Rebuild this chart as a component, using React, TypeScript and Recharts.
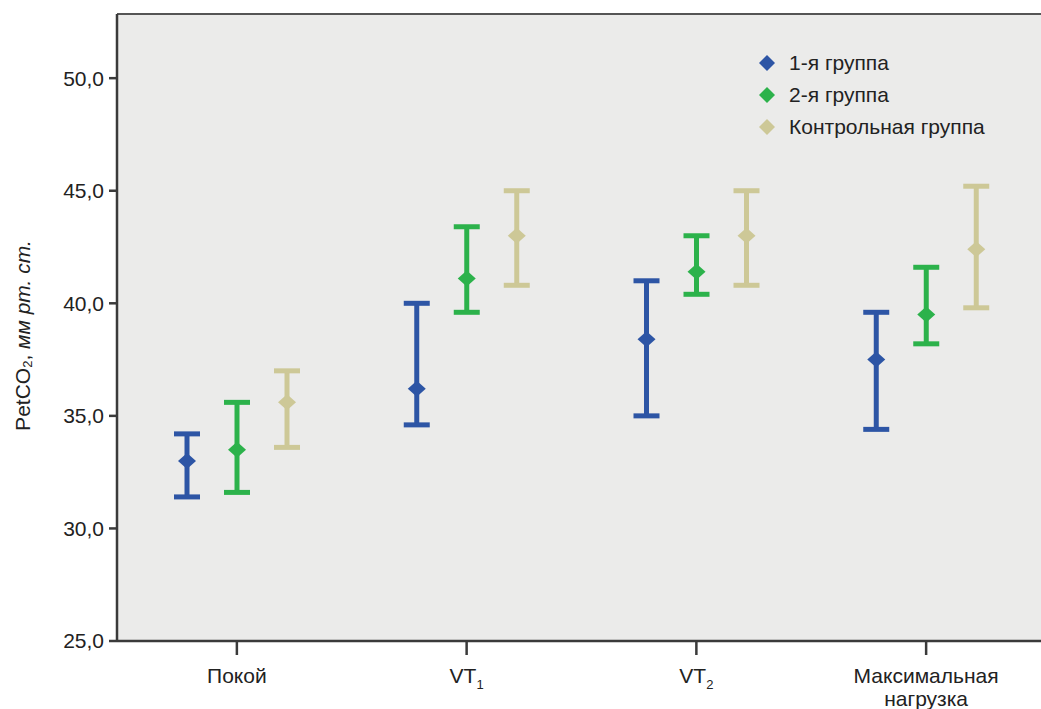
import React from 'react';
import {
  ComposedChart,
  Bar,
  XAxis,
  YAxis,
  CartesianGrid,
  Legend,
  ReferenceLine,
} from 'recharts';

// stages
const categories = ['Покой', 'VT1', 'VT2', 'Максимальная нагрузка'];

// 1-я группа
const group1Mean = [33.0, 36.2, 38.4, 37.5];
const group1Low = [31.4, 34.6, 35.0, 34.4];
const group1High = [34.2, 40.0, 41.0, 39.6];

// 2-я группа
const group2Mean = [33.5, 41.1, 41.4, 39.5];
const group2Low = [31.6, 39.6, 40.4, 38.2];
const group2High = [35.6, 43.4, 43.0, 41.6];

// Контрольная группа
const controlMean = [35.6, 43.0, 43.0, 42.4];
const controlLow = [33.6, 40.8, 40.8, 39.8];
const controlHigh = [37.0, 45.0, 45.0, 45.2];

const yTicks = [25, 30, 35, 40, 45, 50];
const Y_MIN = 25;
const Y_MAX = 52.85;

const series = [
  { key: 'g1', name: '1-я группа', color: '#2d55a5' },
  { key: 'g2', name: '2-я группа', color: '#2cb24b' },
  { key: 'ctrl', name: 'Контрольная группа', color: '#cdc897' },
];

const data = categories.map((name, i) => ({
  name,
  g1: [group1Low[i], group1High[i]],
  g1Mean: group1Mean[i],
  g2: [group2Low[i], group2High[i]],
  g2Mean: group2Mean[i],
  ctrl: [controlLow[i], controlHigh[i]],
  ctrlMean: controlMean[i],
}));

const FONT = '"Liberation Sans", Arial, sans-serif';
const NARROW = '"Liberation Sans Narrow", "Liberation Sans", Arial, sans-serif';

// error bar with diamond at the mean
const ErrShape = (props: any) => {
  const { x, y, width, height, payload, skey, color } = props;
  const cx = x + width / 2;
  const top = Math.min(y, y + height);
  const bottom = Math.max(y, y + height);
  const [lo, hi] = payload[skey];
  const mean = payload[skey + 'Mean'];
  const my = top + ((bottom - top) * (hi - mean)) / (hi - lo);
  return (
    <g>
      <line x1={cx} x2={cx} y1={top} y2={bottom} stroke={color} strokeWidth={5} />
      <line x1={cx - 13} x2={cx + 13} y1={top} y2={top} stroke={color} strokeWidth={5} />
      <line x1={cx - 13} x2={cx + 13} y1={bottom} y2={bottom} stroke={color} strokeWidth={5} />
      <polygon
        points={`${cx - 9},${my} ${cx},${my - 8} ${cx + 9},${my} ${cx},${my + 8}`}
        fill={color}
      />
    </g>
  );
};

const XTick = (props: any) => {
  const { x, y, payload } = props;
  const label: string = payload.value;
  const m = /^VT(\d)$/.exec(label);
  const common = { textAnchor: 'middle' as const, fill: '#222', fontSize: 21, fontFamily: NARROW };
  if (m) {
    return (
      <text x={x} y={y + 26} {...common}>
        VT
        <tspan dy={6} fontSize={13}>
          {m[1]}
        </tspan>
      </text>
    );
  }
  const lines = label.split(' ');
  return (
    <text x={x} y={y + 26} {...common}>
      {lines.map((l, i) => (
        <tspan key={i} x={x} dy={i === 0 ? 0 : 23}>
          {l}
        </tspan>
      ))}
    </text>
  );
};

const YLabel = (props: any) => {
  const vb = props.viewBox || { y: 14, height: 627 };
  const cx = 22;
  const cy = vb.y + vb.height / 2 + 8;
  return (
    <text
      x={cx}
      y={cy}
      transform={`rotate(-90, ${cx}, ${cy})`}
      textAnchor="middle"
      dominantBaseline="central"
      fontSize={21}
      fill="#222"
      fontFamily={NARROW}
    >
      PetCO
      <tspan dy={5} fontSize={13}>
        2
      </tspan>
      <tspan dy={-5}>, </tspan>
      <tspan fontStyle="italic">мм рт. ст.</tspan>
    </text>
  );
};

const LegendBox = () => (
  <div style={{ fontFamily: FONT, fontSize: 21, color: '#222' }}>
    {series.map((s) => (
      <div key={s.key} style={{ display: 'flex', alignItems: 'center', height: 32 }}>
        <svg width={20} height={20} style={{ marginRight: 12 }}>
          <polygon points="2,10 10,2 18,10 10,18" fill={s.color} />
        </svg>
        <span>{s.name}</span>
      </div>
    ))}
  </div>
);

const App: React.FC = () => {
  return (
    <div style={{ position: 'absolute', left: 0, top: 0, background: '#fff' }}>
      <ComposedChart
        width={1041}
        height={709}
        data={data}
        margin={{ top: 14, right: 0, bottom: 0, left: 0 }}
        barSize={20}
        barGap={30}
      >
        <CartesianGrid fill="#ebebea" horizontal={false} vertical={false} />
        <XAxis
          dataKey="name"
          interval={0}
          height={68}
          padding={{ left: 5, right: 0 }}
          tickSize={14}
          tickMargin={2}
          tick={<XTick />}
          axisLine={{ stroke: '#3a3a3a', strokeWidth: 2.5 }}
          tickLine={{ stroke: '#3a3a3a', strokeWidth: 2.5 }}
        />
        <YAxis
          domain={[Y_MIN, Y_MAX]}
          ticks={yTicks}
          allowDataOverflow
          width={117}
          tickSize={8}
          tickMargin={5}
          tickFormatter={(v: number) => v.toFixed(1).replace('.', ',')}
          tick={{ fill: '#222', fontSize: 21, fontFamily: FONT }}
          axisLine={{ stroke: '#3a3a3a', strokeWidth: 2.5 }}
          tickLine={{ stroke: '#3a3a3a', strokeWidth: 2.5 }}
          label={{ content: <YLabel /> }}
        />
        <ReferenceLine y={Y_MAX} stroke="#555" strokeWidth={2} />
        <Legend
          verticalAlign="middle"
          align="center"
          layout="vertical"
          wrapperStyle={{ left: 757, top: 47, width: 280, right: 'auto', bottom: 'auto' }}
          content={<LegendBox />}
        />
        {series.map((s) => (
          <Bar
            key={s.key}
            dataKey={s.key}
            name={s.name}
            fill={s.color}
            isAnimationActive={false}
            shape={(p: any) => <ErrShape {...p} skey={s.key} color={s.color} />}
          />
        ))}
      </ComposedChart>
    </div>
  );
};

export default App;
